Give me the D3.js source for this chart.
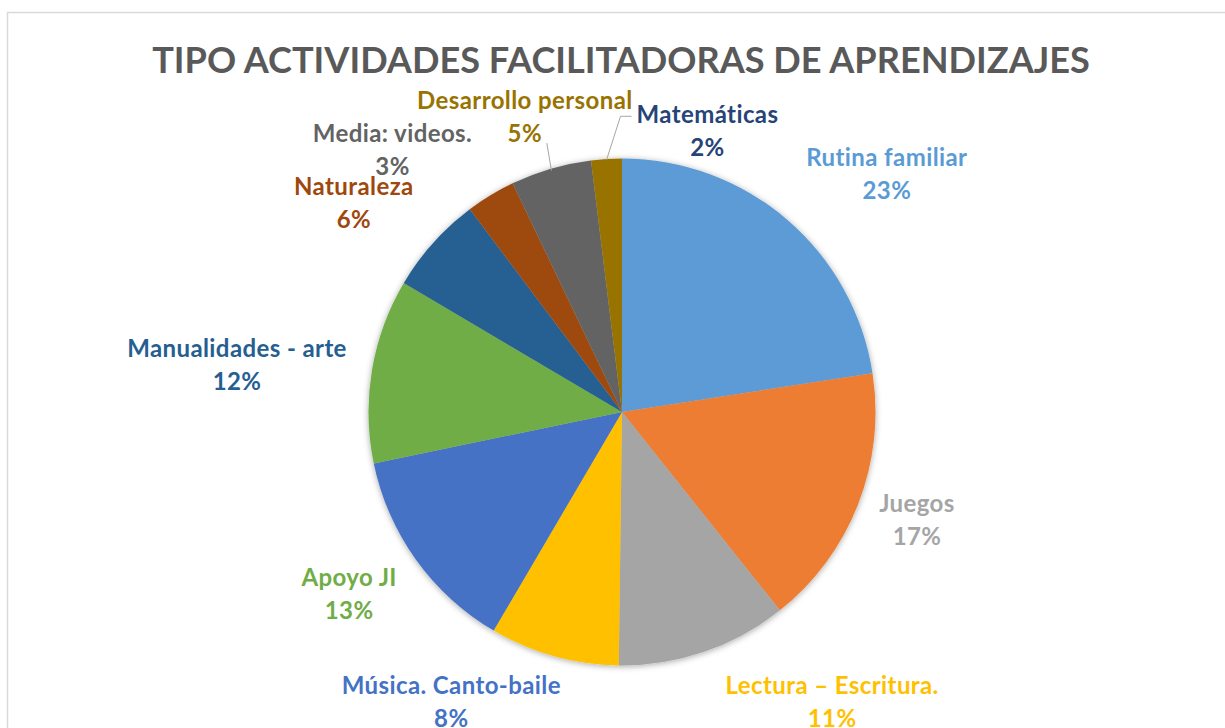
<!DOCTYPE html>
<html>
<head>
<meta charset="utf-8">
<script src="https://cdn.jsdelivr.net/npm/d3@7"></script>
<style>
  html, body { margin: 0; padding: 0; background: #fff; }
  svg text { font-family: Lato, 'Open Sans', sans-serif; font-weight: 700; }
</style>
</head>
<body>
<div class="container"></div>
<script>
// data (shares in %)
var categories = ['Rutina familiar', 'Juegos', 'Lectura – Escritura.', 'Música. Canto-baile', 'Apoyo JI',
                  'Manualidades - arte', 'Naturaleza', 'Media: videos.', 'Desarrollo personal', 'Matemáticas'];
var values = [22.55, 16.75, 10.9, 8.25, 13.3, 11.75, 6.25, 3.15, 5.15, 1.95];
var title = 'TIPO ACTIVIDADES FACILITADORAS DE APRENDIZAJES';

var sliceColors = ['#5B9BD5', '#ED7D31', '#A5A5A5', '#FFC000', '#4472C4',
                   '#70AD47', '#255E91', '#9E480E', '#636363', '#997300'];
var labelColors = ['#5B9BD5', '#A5A5A5', '#FFC000', '#4472C4', '#70AD47',
                   '#255E91', '#9E480E', '#636363', '#997300', '#264478'];

// label placement: shift from slice mid angle (deg) and distance from centre (px)
var labelShift = [6.5, -2.6, -17.8, 15.6, 3.1, -1.3, -2.9, -9.1, -1.5, 20];
var labelDist  = [361.6, 311.5, 351.6, 329.8, 323.7, 388.9, 344.8, 354.6, 318.1, 301.1];

var width = 1225, height = 728;
var cx = 622, cy = 412, r = 253.5;

var svg = d3.select('.container')
    .append('svg')
    .attr('width', width)
    .attr('height', height);

var defs = svg.append('defs');
var f = defs.append('filter')
    .attr('id', 'shadow')
    .attr('x', '-10%').attr('y', '-10%')
    .attr('width', '120%').attr('height', '120%');
f.append('feDropShadow')
    .attr('dx', 0).attr('dy', 1)
    .attr('stdDeviation', 3)
    .attr('flood-color', '#000')
    .attr('flood-opacity', 0.35);

// chart border
svg.append('rect')
    .attr('x', 7.5).attr('y', 12.5)
    .attr('width', width + 20).attr('height', height + 20)
    .style('fill', 'none')
    .style('stroke', '#d9d9d9')
    .style('stroke-width', 1.5);

// title, fitted to width
var t = svg.append('text')
    .attr('x', 621)
    .attr('y', 72.5)
    .attr('text-anchor', 'middle')
    .style('fill', '#595959')
    .style('font-size', '38px')
    .text(title);
var tw = t.node().getComputedTextLength();
t.style('font-size', (38 * 938 / tw) + 'px');

var pie = d3.pie().sort(null).value(d => d);
var arcs = pie(values);
var arc = d3.arc().innerRadius(0).outerRadius(r);

var g = svg.append('g')
    .attr('transform', 'translate(' + cx + ',' + cy + ')');

g.append('g')
    .style('filter', 'url(#shadow)')
    .selectAll('path')
    .data(arcs)
    .enter()
    .append('path')
    .attr('d', arc)
    .style('fill', (d, i) => sliceColors[i]);

var deg = Math.PI / 180;
function mid(d) { return (d.startAngle + d.endAngle) / 2; }
function labelPos(d, i) { return d3.pointRadial(mid(d) + labelShift[i] * deg, labelDist[i]); }

var labels = g.selectAll('.lbl')
    .data(arcs)
    .enter()
    .append('text')
    .attr('class', 'lbl')
    .attr('text-anchor', 'middle')
    .style('font-size', '24px')
    .style('letter-spacing', '0.4px')
    .style('fill', (d, i) => labelColors[i])
    .attr('transform', (d, i) => 'translate(' + labelPos(d, i) + ')');

labels.append('tspan')
    .attr('x', 0).attr('y', 0)
    .text((d, i) => categories[i]);
labels.append('tspan')
    .attr('x', 0).attr('y', 33)
    .text(d => Math.round(d.value) + '%');

// leader lines for the two small slices at the top
var leader = d3.line();
var idxDes = 8, idxMat = 9;

var pD = labelPos(arcs[idxDes], idxDes);
var eD = d3.pointRadial(mid(arcs[idxDes]), r - 2);
g.append('path')
    .attr('d', leader([[pD[0] + 22, pD[1] + 34], eD]))
    .style('fill', 'none')
    .style('stroke', '#a6a6a6')
    .style('stroke-width', 1);

var pM = labelPos(arcs[idxMat], idxMat);
var wM = labels.filter((d, i) => i == idxMat).select('tspan').node().getComputedTextLength();
var eM = d3.pointRadial(mid(arcs[idxMat]), r - 1);
g.append('path')
    .attr('d', leader([[pM[0] - wM / 2 - 5, pM[1] - 7], [pM[0] - wM / 2 - 16, pM[1] - 7], eM]))
    .style('fill', 'none')
    .style('stroke', '#a6a6a6')
    .style('stroke-width', 1);
</script>
</body>
</html>
